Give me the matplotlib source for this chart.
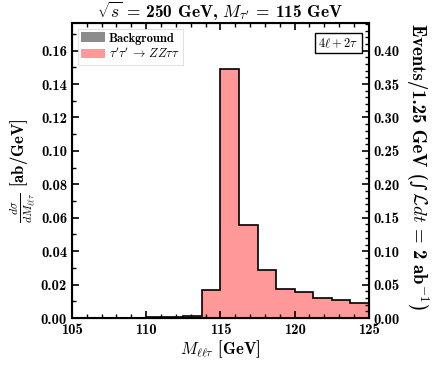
import matplotlib
matplotlib.use('Agg')
import matplotlib.pyplot as plt
from matplotlib.ticker import MultipleLocator
import numpy as np

# ============================================================
# DATA (dsigma/dM in ab/GeV, 1.25 GeV bins)
# ============================================================

BIN_EDGES = [105.0, 106.25, 107.5, 108.75, 110.0, 111.25, 112.5, 113.75,
             115.0, 116.25, 117.5, 118.75, 120.0, 121.25, 122.5, 123.75, 125.0]
BACKGROUND = [0.0, 0.0, 0.0, 0.0, 0.0006, 0.0009, 0.0006, 0.0003,
              0.0, 0.0, 0.0, 0.0, 0.0, 0.0, 0.0, 0.0]
SIGNAL = [0.0, 0.0, 0.0, 0.0, 0.0, 0.0, 0.0009, 0.0162,
          0.149, 0.0555, 0.0288, 0.0175, 0.0155, 0.0118, 0.0110, 0.0090]
LUMI_FACTOR = 1.25 * 2.0   # events per 1.25 GeV bin with 2 ab^-1

PINK = '#ff9999'
GRAY = '#8c8c8c'
TEXT_FONT = 'cmb10'

plt.rcParams['mathtext.fontset'] = 'cm'
plt.rcParams['font.family'] = [TEXT_FONT, 'DejaVu Serif']
plt.rcParams['axes.unicode_minus'] = False

fig = plt.figure(figsize=(4.36, 3.66), dpi=100)
ax = fig.add_axes([0.165, 0.131, 0.681, 0.806])

edges = np.array(BIN_EDGES)
bkg = np.array(BACKGROUND)
sig = np.array(SIGNAL)
total = bkg + sig

ax.stairs(bkg, edges, fill=True, color=GRAY, label='Background')
ax.stairs(total, edges, baseline=bkg, fill=True, color=PINK,
          label=r"$\tau'\tau'\,\to\,ZZ\tau\tau$")
ax.stairs(total, edges, color='black', linewidth=1.2)

ymax = 0.1765
ax.set_xlim(105, 125)
ax.set_ylim(0, ymax)

ax.xaxis.set_major_locator(MultipleLocator(5))
ax.xaxis.set_minor_locator(MultipleLocator(1))
ax.yaxis.set_major_locator(MultipleLocator(0.02))
ax.yaxis.set_minor_locator(MultipleLocator(0.01))
ax.yaxis.set_major_formatter(matplotlib.ticker.FormatStrFormatter('%.2f'))
ax.tick_params(which='both', direction='in', top=True, right=False, labelsize=10.5)
ax.tick_params(which='major', length=5, width=1.2)
ax.tick_params(which='minor', length=3, width=1.0)
for spine in ax.spines.values():
    spine.set_linewidth(1.5)

ax2 = ax.twinx()
ax2.set_ylim(0, ymax * LUMI_FACTOR)
ax2.yaxis.set_major_locator(MultipleLocator(0.05))
ax2.yaxis.set_minor_locator(MultipleLocator(0.01))
ax2.yaxis.set_major_formatter(matplotlib.ticker.FormatStrFormatter('%.2f'))
ax2.tick_params(which='both', direction='in', labelsize=10.5)
ax2.tick_params(which='major', length=5, width=1.2)
ax2.tick_params(which='minor', length=3, width=1.0)

ax.set_xlabel(r'$M_{\ell\ell\tau}$ [GeV]', fontsize=12, labelpad=1)
ax.set_ylabel(r'$\frac{d\sigma}{dM_{\ell\ell\tau}}$ [ab/GeV]', fontsize=12, labelpad=2)

# right-hand label: built from pieces so the integral sign keeps text size
pieces = [('Events/1.25 GeV (', [TEXT_FONT]),
          ('\u222b', ['DejaVu Serif']),
          (r'$\,\mathcal{L}dt$ = 2 ab$^{-1}$)', [TEXT_FONT])]
renderer = fig.canvas.get_renderer()
W, H = fig.bbox.width, fig.bbox.height
base_x = 412.0 / W
texts = []
for s, fam in pieces:
    t = fig.text(base_x, 0.5, s, fontsize=13.5, family=fam, rotation=270,
                 rotation_mode='anchor', ha='left', va='baseline')
    texts.append(t)
lengths = [t.get_window_extent(renderer).height for t in texts]
y = (366 - 167) / H + sum(lengths) / 2 / H
for t, L in zip(texts, lengths):
    t.set_position((base_x, y))
    y -= L / H

ax.set_title(r"$\sqrt{s}$ = 250 GeV, $M_{\tau'}$ = 115 GeV", fontsize=12.5, pad=3)

leg = ax.legend(loc='upper left', fontsize=9, frameon=True, fancybox=False,
                borderpad=0.3, handlelength=1.9, handleheight=0.8, handletextpad=0.3,
                labelspacing=0.15, borderaxespad=0.45)
leg.get_frame().set_edgecolor('#dddddd')
leg.get_frame().set_linewidth(0.8)

ax.text(0.965, 0.955, r'$4\ell+2\tau$', transform=ax.transAxes, ha='right', va='top',
        fontsize=9, bbox=dict(boxstyle='square,pad=0.25', facecolor='white',
                              edgecolor='black', linewidth=1.0))

fig.savefig('out.png', dpi=100)
